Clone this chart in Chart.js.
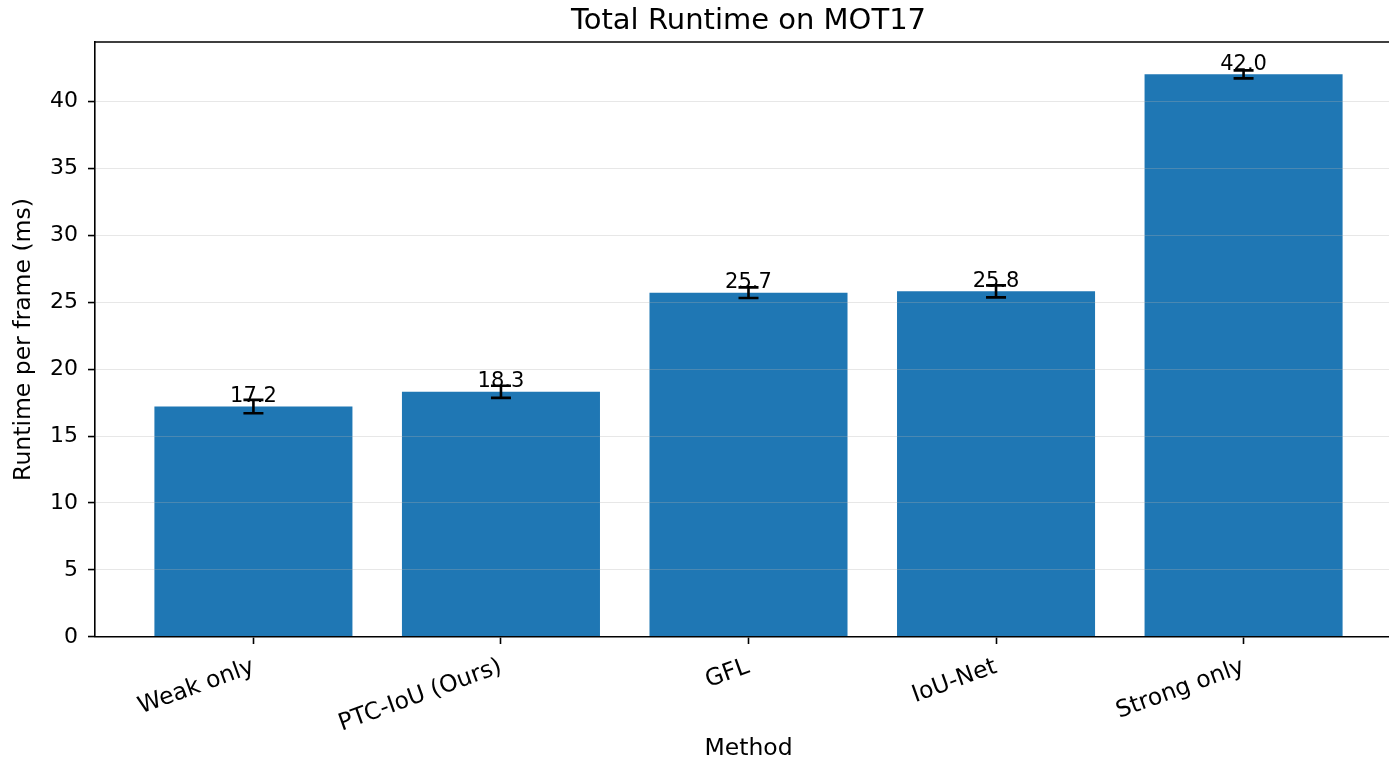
<!DOCTYPE html>
<html>
<head>
<meta charset="utf-8">
<title>Total Runtime on MOT17</title>
<script src="https://cdn.jsdelivr.net/npm/chart.js@4/dist/chart.umd.min.js"></script>
<style>
  html, body { margin: 0; padding: 0; background: #fff; overflow: hidden; }
  #wrap { width: 1410px; height: 764px; }
</style>
</head>
<body>
<div id="wrap"><canvas id="c" width="1410" height="764"></canvas></div>
<script>
// Runtime per frame (ms) for each tracking method, with spread
const methods = ['Weak only', 'PTC-IoU (Ours)', 'GFL', 'IoU-Net', 'Strong only'];
const runtimeMs = [17.2, 18.3, 25.7, 25.8, 42.0];
const runtimeErr = [0.5, 0.45, 0.4, 0.45, 0.3];
const yTicks = [0, 5, 10, 15, 20, 25, 30, 35, 40];
const chartTitle = 'Total Runtime on MOT17';

const FONT = '"DejaVu Sans", "Liberation Sans", sans-serif';
const BAR_BLUE = '#1f77b4';

// x positions of the bars are just the category indices
const points = runtimeMs.map((v, i) => ({ x: i, y: v }));

// Title over the plot area, error bars, value labels and the top/right frame
const annotate = {
  id: 'annotate',
  afterDraw(chart) {
    const ctx = chart.ctx;
    const xs = chart.scales.x, ys = chart.scales.y;
    const area = chart.chartArea;
    ctx.save();

    ctx.fillStyle = '#000';
    ctx.font = '29px ' + FONT;
    ctx.textAlign = 'center';
    ctx.textBaseline = 'middle';
    ctx.fillText(chartTitle, (area.left + area.right) / 2, 21);

    ctx.strokeStyle = '#000';
    ctx.lineWidth = 1.6;
    ctx.beginPath();
    ctx.moveTo(area.left, area.top);
    ctx.lineTo(area.right, area.top);
    ctx.lineTo(area.right, area.bottom);
    ctx.stroke();

    runtimeMs.forEach((v, i) => {
      const px = xs.getPixelForValue(i);
      const yHi = ys.getPixelForValue(v + runtimeErr[i]);
      const yLo = ys.getPixelForValue(v - runtimeErr[i]);
      const cap = 10;
      ctx.strokeStyle = '#000';
      ctx.lineWidth = 2.6;
      ctx.beginPath();
      ctx.moveTo(px, yHi); ctx.lineTo(px, yLo);
      ctx.moveTo(px - cap, yHi); ctx.lineTo(px + cap, yHi);
      ctx.moveTo(px - cap, yLo); ctx.lineTo(px + cap, yLo);
      ctx.stroke();
    });

    ctx.fillStyle = '#000';
    ctx.font = '21px ' + FONT;
    ctx.textAlign = 'center';
    ctx.textBaseline = 'alphabetic';
    runtimeMs.forEach((v, i) => {
      const px = xs.getPixelForValue(i);
      const py = ys.getPixelForValue(v);
      ctx.fillText(v.toFixed(1), px, py - 4.8);
    });
    ctx.restore();
  }
};

new Chart(document.getElementById('c'), {
  type: 'bar',
  data: {
    datasets: [{
      label: 'Runtime',
      data: points,
      backgroundColor: BAR_BLUE,
      borderWidth: 0,
      barPercentage: 0.8,
      categoryPercentage: 1.0
    }]
  },
  options: {
    responsive: false,
    animation: false,
    devicePixelRatio: 1,
    layout: { padding: { left: 0, right: 8, top: 42, bottom: 0 } },
    plugins: {
      legend: { display: false },
      tooltip: { enabled: false },
      title: { display: false }
    },
    scales: {
      x: {
        type: 'linear',
        offset: false,
        min: -0.64,
        max: 4.64,
        afterBuildTicks(scale) {
          scale.ticks = methods.map((_, i) => ({ value: i }));
        },
        afterFit(scale) { scale.height = 127; },
        grid: {
          display: true,
          offset: false,
          drawOnChartArea: false,
          drawTicks: true,
          tickLength: 7,
          tickColor: '#000',
          tickWidth: 1.6
        },
        border: { display: true, color: '#000', width: 1.6, z: 2 },
        ticks: {
          autoSkip: false,
          minRotation: 20,
          maxRotation: 20,
          padding: 9,
          color: '#000',
          font: { family: FONT, size: 23.5 },
          callback: (v) => methods[v]
        },
        title: {
          display: true,
          text: 'Method',
          color: '#000',
          font: { family: FONT, size: 23.5 },
          padding: { top: 0, bottom: 1 }
        }
      },
      y: {
        type: 'linear',
        min: 0,
        max: 44.415,
        afterBuildTicks(scale) {
          scale.ticks = yTicks.map(v => ({ value: v }));
        },
        afterFit(scale) { scale.width = 95; },
        grid: {
          display: true,
          z: 1,
          color: 'rgba(176,176,176,0.3)',
          lineWidth: 1.1,
          drawTicks: true,
          tickLength: 7,
          tickColor: '#000',
          tickWidth: 1.6
        },
        border: { display: true, color: '#000', width: 1.6, z: 2 },
        ticks: {
          padding: 10,
          color: '#000',
          font: { family: FONT, size: 22 },
          callback: (v) => String(v)
        },
        title: {
          display: true,
          text: 'Runtime per frame (ms)',
          color: '#000',
          font: { family: FONT, size: 23.5 },
          padding: { top: 9.5, bottom: 0 }
        }
      }
    }
  },
  plugins: [annotate]
});
</script>
</body>
</html>
